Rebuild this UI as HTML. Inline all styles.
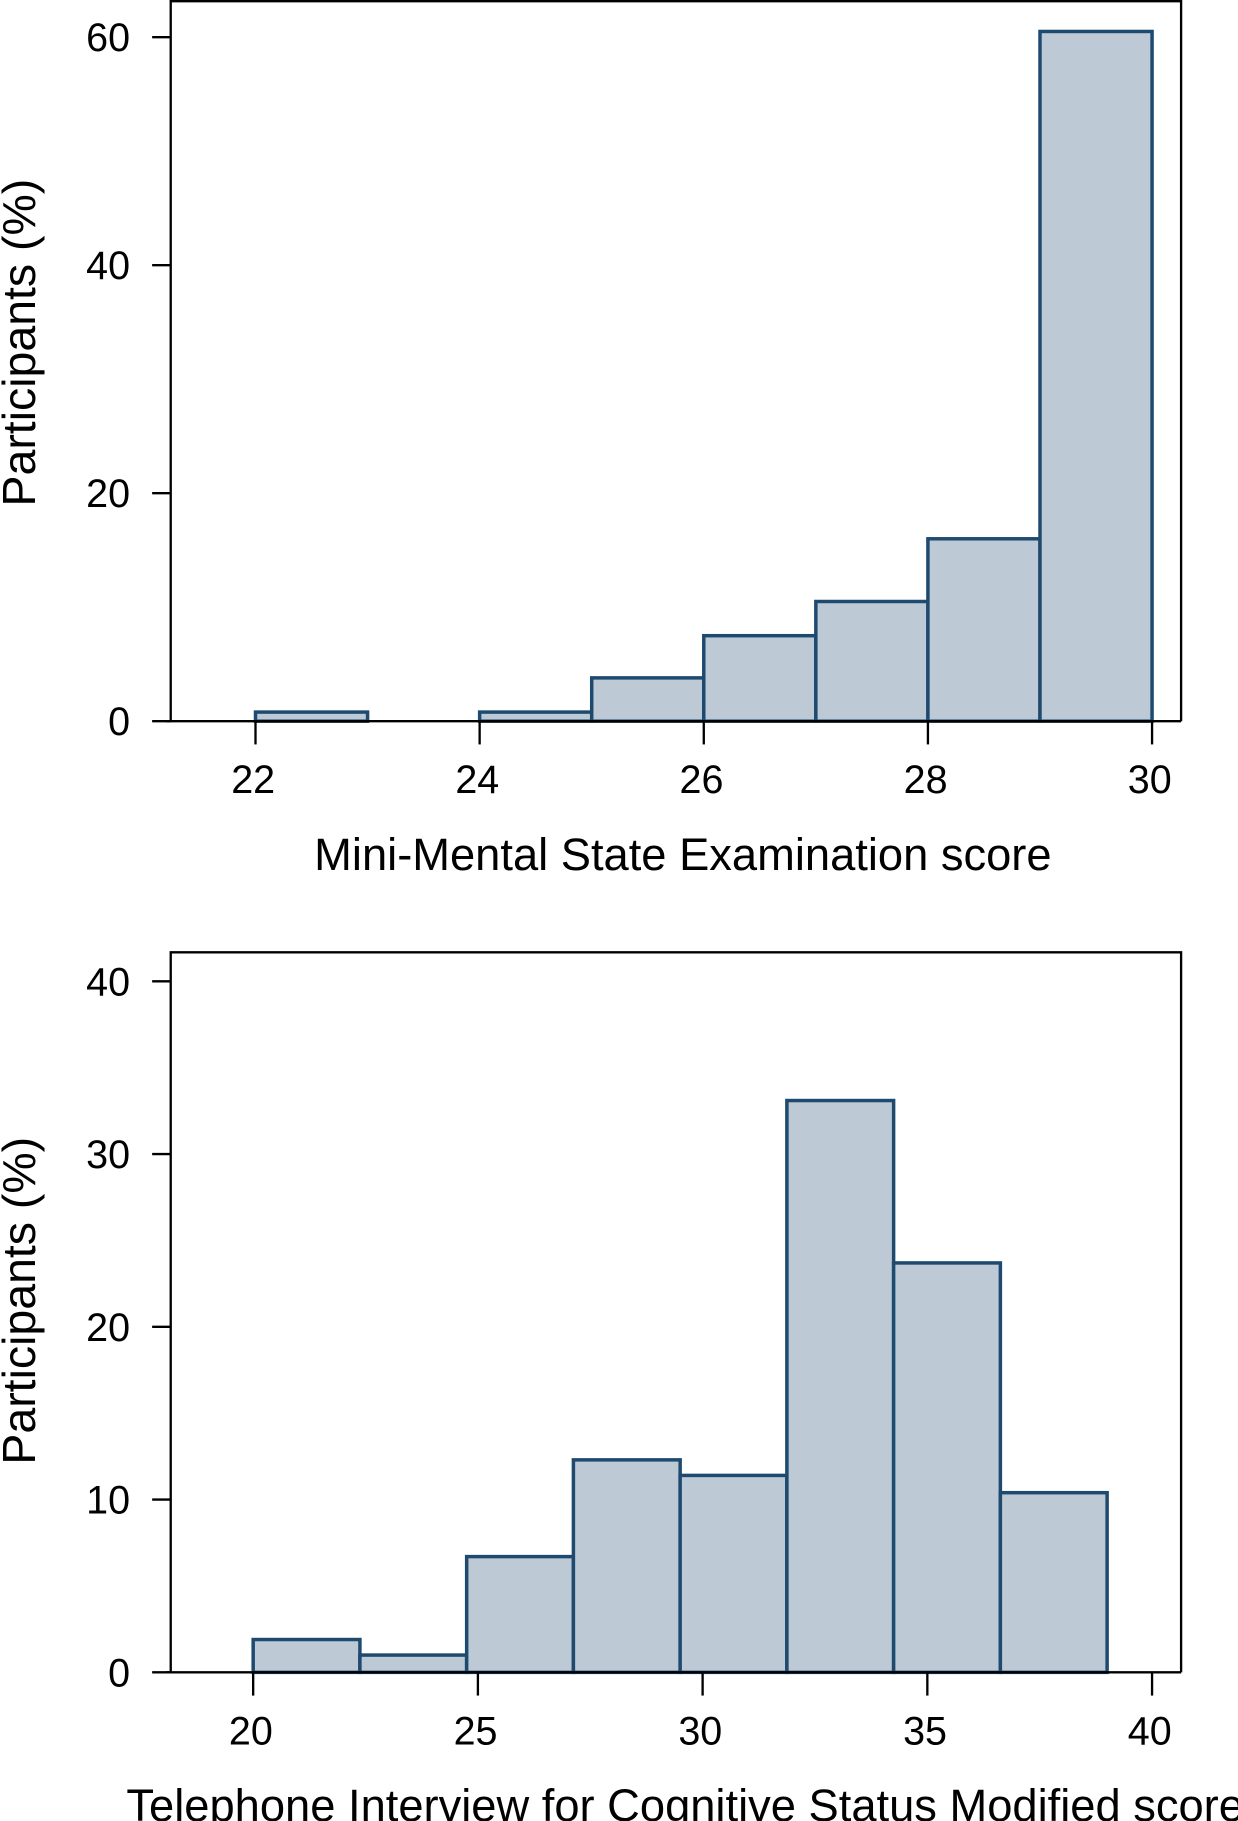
<!DOCTYPE html>
<html><head><meta charset="utf-8">
<style>
html,body{margin:0;padding:0;background:#fff;}
svg{display:block;}
text{font-family:"Liberation Sans",sans-serif;fill:#000;}
</style></head>
<body>
<svg id="fig" width="1238" height="1821" viewBox="0 0 1066 1568" xmlns="http://www.w3.org/2000/svg"></svg>
<script>
// Top chart data (MMSE)
const mmseBinStarts = [22, 23, 24, 25, 26, 27, 28, 29];
const mmseValues = [0.8, 0, 0.8, 3.8, 7.5, 10.5, 16.0, 60.5];
const mmseXTicks = [22, 24, 26, 28, 30];
const mmseYTicks = [0, 20, 40, 60];
// Bottom chart data (TICS-M)
const ticsBinStarts = [20, 22.375, 24.75, 27.125, 29.5, 31.875, 34.25, 36.625];
const ticsValues = [1.9, 1.0, 6.7, 12.3, 11.4, 33.1, 23.7, 10.4];
const ticsXTicks = [20, 25, 30, 35, 40];
const ticsYTicks = [0, 10, 20, 30, 40];

const NS = "http://www.w3.org/2000/svg";
const svg = document.getElementById('fig');
function mk(tag, attrs, parent) {
  const e = document.createElementNS(NS, tag);
  for (const k in attrs) e.setAttribute(k, attrs[k]);
  (parent || svg).appendChild(e);
  return e;
}

function chart(cfg) {
  const g = mk('g', {});
  
  
  const xs = v => cfg.x0px + (v - cfg.x0) * cfg.xScale;
  const ys = v => cfg.y0px - v * cfg.yScale;
  const fr = mk('path', {d: `M${cfg.left},${cfg.y0px} V${cfg.top} H${cfg.right} V${cfg.y0px}`, fill: 'none', stroke: '#000', 'stroke-width': 2}, g);
  
  
  cfg.starts.forEach((s, i) => {
    const v = cfg.values[i];
    if (v <= 0) return;
    const x1 = xs(s), x2 = xs(s + cfg.binW), y = ys(v);
    const r = mk('rect', {x: x1, y: y, width: x2 - x1, height: cfg.y0px - y, fill: '#bdcad6', stroke: '#1e4a70', 'stroke-width': 3}, g);
    
    
  });
  const xa = mk('line', {x1: cfg.left - 4, x2: cfg.right, y1: cfg.y0px, y2: cfg.y0px, stroke: '#000', 'stroke-width': 2}, g);
  
  
  cfg.xTicks.forEach(t => {
    const x = xs(t);
    mk('line', {x1: x, x2: x, y1: cfg.y0px, y2: cfg.y0px + 20, stroke: '#000', 'stroke-width': 2}, g);
    const tx = mk('text', {x: x - 2, y: cfg.y0px + 62, 'text-anchor': 'middle', 'font-size': 34}, g);
    tx.textContent = t;
    
    
  });
  cfg.yTicks.forEach(t => {
    const y = ys(t);
    mk('line', {x1: cfg.left - 16, x2: cfg.left, y1: y, y2: y, stroke: '#000', 'stroke-width': 2}, g);
    const tx = mk('text', {x: cfg.left - 35, y: y + 12, 'text-anchor': 'end', 'font-size': 34}, g);
    tx.textContent = t;
    
    
  });
  const xt = mk('text', {x: cfg.xTitleX, y: cfg.y0px + 128, 'text-anchor': 'middle', 'font-size': 39}, g);
  xt.textContent = cfg.xTitle;
  
  
  const yt = mk('text', {x: 0, y: 0, 'text-anchor': 'middle', 'font-size': 40, transform: `translate(30,${cfg.yTitleY}) rotate(-90)`}, g);
  yt.textContent = 'Participants (%)';
  
  
}

chart({name: 'mmse-histogram', starts: mmseBinStarts, values: mmseValues, binW: 1,
  xTicks: mmseXTicks, yTicks: mmseYTicks, x0: 22, x0px: 220, xScale: (992 - 220) / 8,
  y0px: 621, yScale: (621 - 32) / 60, left: 147, right: 1017, top: 1,
  xTitle: 'Mini-Mental State Examination score', xTitleX: 588, yTitleY: 295});

chart({name: 'tics-m-histogram', starts: ticsBinStarts, values: ticsValues, binW: 2.375,
  xTicks: ticsXTicks, yTicks: ticsYTicks, x0: 20, x0px: 218, xScale: (992 - 218) / 20,
  y0px: 1440, yScale: (1440 - 845) / 40, left: 147, right: 1017, top: 820,
  xTitle: 'Telephone Interview for Cognitive Status Modified score', xTitleX: 590, yTitleY: 1120});
</script>
</body></html>
